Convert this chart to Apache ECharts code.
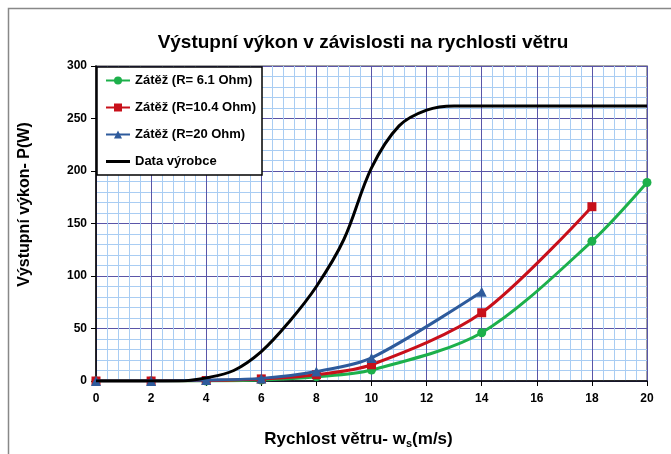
<!DOCTYPE html>
<html>
<head>
<meta charset="utf-8">
<script src="https://cdn.jsdelivr.net/npm/echarts@6/dist/echarts.min.js"></script>
<style>
html,body{margin:0;padding:0;background:#fff;}
#chart{width:671px;height:454px;}
</style>
</head>
<body>
<div id="chart"></div>
<script>
// wind speed (m/s) and measured power (W)
const speedA = [0, 2, 4, 6, 8, 10, 14, 18, 20];
const powerA = [0, 0, 0, 1, 4, 10.5, 46, 133, 189];   // R = 6.1 Ohm
const speedB = [0, 2, 4, 6, 8, 10, 14, 18];
const powerB = [0, 0, 0.5, 2, 6, 15.5, 65, 166];      // R = 10.4 Ohm
const speedC = [0, 2, 4, 6, 8, 10, 14];
const powerC = [0, 0, 1, 2.5, 9, 22, 85];             // R = 20 Ohm
const speedM = [0, 2, 3, 4, 5, 6, 7, 8, 9, 10, 11, 12, 13, 14, 20];
const powerM = [0, 0, 0, 3, 10, 28, 56, 90, 135, 203, 243, 258, 262, 262, 262];

const seriesNames = ['Zátěž (R= 6.1 Ohm)', 'Zátěž (R=10.4 Ohm)', 'Zátěž (R=20 Ohm)', 'Data výrobce'];
const colors = ['#1db04b', '#c8101a', '#2e5b9c', '#000000'];

// plain line for the legend (tiny corner dots keep the box 24x10 so the bar stays thin)
const lineIcon = 'path://M0,3.6h24v2.8h-24z M0,0h0.01v0.01h-0.01z M23.99,9.99h0.01v0.01h-0.01z';

const pairs = (xs, ys) => xs.map((x, i) => [x, ys[i]]);

const chart = echarts.init(document.getElementById('chart'));
chart.setOption({
    animation: false,
    textStyle: {fontFamily: 'Arial, "Liberation Sans", sans-serif'},
    title: {
        text: 'Výstupní výkon v závislosti na rychlosti větru',
        left: 358, top: 28, textAlign: 'center',
        textStyle: {fontSize: 19, fontWeight: 'bold', color: '#000'}
    },
    graphic: [{
        type: 'rect', shape: {x: 8.5, y: 8.5, width: 720, height: 520},
        style: {fill: 'none', stroke: '#888', lineWidth: 1.5}, silent: true
    }],
    legend: {
        orient: 'vertical',
        left: 97, top: 67,
        padding: [7, 6, 7, 8],
        itemGap: 14,
        itemWidth: 24, itemHeight: 10,
        backgroundColor: '#fff',
        borderColor: '#000', borderWidth: 1.5,
        textStyle: {fontSize: 13, fontWeight: 'bold', color: '#000'},
        data: [seriesNames[0], seriesNames[1], seriesNames[2],
               {name: seriesNames[3], icon: lineIcon}]
    },
    grid: {left: 96, right: 24, top: 66, bottom: 72, show: true, borderColor: '#888', borderWidth: 1.5},
    xAxis: {
        type: 'value', min: 0, max: 20, interval: 2,
        name: 'Rychlost větru- w{sub|s}(m/s)',
        nameLocation: 'middle', nameGap: 48,
        nameTextStyle: {fontSize: 17, fontWeight: 'bold', color: '#000', padding: [0, 26, 0, 0],
            rich: {sub: {fontSize: 11, fontWeight: 'bold', padding: [9, 0, 0, 0]}}},
        axisLine: {lineStyle: {color: '#000', width: 1.5}},
        axisTick: {lineStyle: {color: '#000'}, length: 5},
        axisLabel: {fontSize: 12, fontWeight: 'bold', color: '#000', margin: 12},
        splitLine: {lineStyle: {color: '#5a55a8', width: 1}},
        minorTick: {show: false, splitNumber: 5},
        minorSplitLine: {show: true, lineStyle: {color: '#a9cdf3', width: 1}}
    },
    yAxis: {
        type: 'value', min: 0, max: 300, interval: 50,
        name: 'Výstupní výkon- P(W)',
        nameLocation: 'middle', nameGap: 63,
        nameTextStyle: {fontSize: 16, fontWeight: 'bold', color: '#000', padding: [0, 0, 0, 38]},
        axisLine: {show: true, lineStyle: {color: '#000', width: 1.5}},
        axisTick: {show: true, lineStyle: {color: '#000'}, length: 5},
        axisLabel: {fontSize: 12, fontWeight: 'bold', color: '#000', margin: 9},
        splitLine: {lineStyle: {color: '#5a55a8', width: 1}},
        minorTick: {show: false, splitNumber: 5},
        minorSplitLine: {show: true, lineStyle: {color: '#a9cdf3', width: 1}}
    },
    series: [
        {name: seriesNames[0], type: 'line', smooth: 0.3, data: pairs(speedA, powerA),
         symbol: 'circle', symbolSize: 9, color: colors[0], lineStyle: {width: 3}, z: 3},
        {name: seriesNames[1], type: 'line', smooth: 0.3, data: pairs(speedB, powerB),
         symbol: 'rect', symbolSize: 9, color: colors[1], lineStyle: {width: 3}, z: 4},
        {name: seriesNames[2], type: 'line', smooth: 0.3, data: pairs(speedC, powerC),
         symbol: 'triangle', symbolSize: 10, color: colors[2], lineStyle: {width: 3}, z: 5},
        {name: seriesNames[3], type: 'line', smooth: 0.35, data: pairs(speedM, powerM),
         symbol: 'none', color: colors[3], lineStyle: {width: 3}, z: 6}
    ]
});
</script>
</body>
</html>
